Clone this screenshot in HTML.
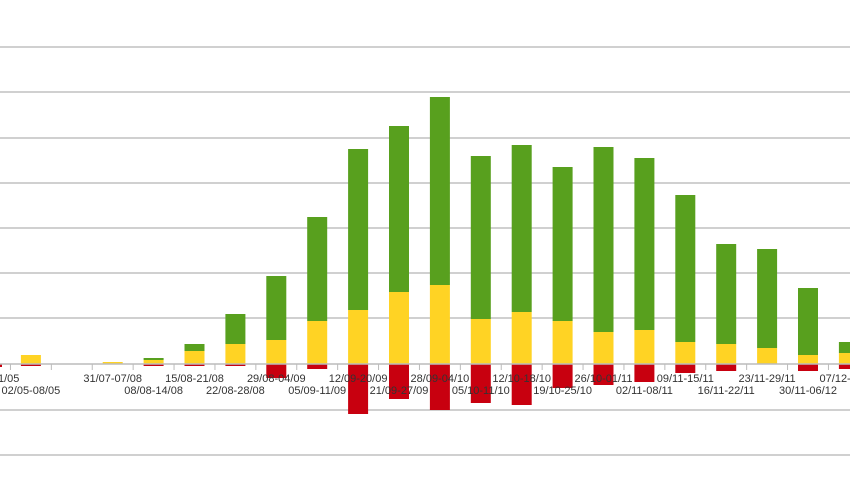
<!DOCTYPE html><html><head><style>body{margin:0;background:#fff}svg{display:block}text{font-family:"Liberation Sans",sans-serif;font-size:11px;fill:#333}</style></head><body>
<svg width="850" height="478" xmlns="http://www.w3.org/2000/svg">
<g stroke="#d0d0d0" stroke-width="2">
<line x1="0" x2="850" y1="47" y2="47"/><line x1="0" x2="850" y1="92" y2="92"/><line x1="0" x2="850" y1="138" y2="138"/><line x1="0" x2="850" y1="183" y2="183"/><line x1="0" x2="850" y1="228" y2="228"/><line x1="0" x2="850" y1="273" y2="273"/><line x1="0" x2="850" y1="318" y2="318"/><line x1="0" x2="850" y1="410" y2="410"/><line x1="0" x2="850" y1="455" y2="455"/>
</g>
<g fill="#58a01e">
<rect x="143.6" y="358" width="20" height="2"/>
<rect x="184.5" y="344" width="20" height="7"/>
<rect x="225.4" y="314" width="20" height="30"/>
<rect x="266.3" y="276" width="20" height="64"/>
<rect x="307.2" y="217" width="20" height="104"/>
<rect x="348.1" y="149" width="20" height="161"/>
<rect x="389" y="126" width="20" height="166"/>
<rect x="429.9" y="97" width="20" height="188"/>
<rect x="470.8" y="156" width="20" height="163"/>
<rect x="511.7" y="145" width="20" height="167"/>
<rect x="552.6" y="167" width="20" height="154"/>
<rect x="593.5" y="147" width="20" height="185"/>
<rect x="634.4" y="158" width="20" height="172"/>
<rect x="675.3" y="195" width="20" height="147"/>
<rect x="716.2" y="244" width="20" height="100"/>
<rect x="757.1" y="249" width="20" height="99"/>
<rect x="798" y="288" width="20" height="67"/>
<rect x="838.9" y="342" width="20" height="11"/>
</g>
<g fill="#ffd324">
<rect x="-20" y="352" width="20" height="12"/>
<rect x="20.9" y="355" width="20" height="9"/>
<rect x="102.7" y="362" width="20" height="2"/>
<rect x="143.6" y="360" width="20" height="4"/>
<rect x="184.5" y="351" width="20" height="13"/>
<rect x="225.4" y="344" width="20" height="20"/>
<rect x="266.3" y="340" width="20" height="24"/>
<rect x="307.2" y="321" width="20" height="43"/>
<rect x="348.1" y="310" width="20" height="54"/>
<rect x="389" y="292" width="20" height="72"/>
<rect x="429.9" y="285" width="20" height="79"/>
<rect x="470.8" y="319" width="20" height="45"/>
<rect x="511.7" y="312" width="20" height="52"/>
<rect x="552.6" y="321" width="20" height="43"/>
<rect x="593.5" y="332" width="20" height="32"/>
<rect x="634.4" y="330" width="20" height="34"/>
<rect x="675.3" y="342" width="20" height="22"/>
<rect x="716.2" y="344" width="20" height="20"/>
<rect x="757.1" y="348" width="20" height="16"/>
<rect x="798" y="355" width="20" height="9"/>
<rect x="838.9" y="353" width="20" height="11"/>
</g>
<g fill="#c8000f">
<rect x="-20" y="364" width="22" height="3"/>
<rect x="20.9" y="364" width="20" height="2"/>
<rect x="143.6" y="364" width="20" height="2"/>
<rect x="184.5" y="364" width="20" height="2"/>
<rect x="225.4" y="364" width="20" height="2"/>
<rect x="266.3" y="364" width="20" height="14"/>
<rect x="307.2" y="364" width="20" height="5"/>
<rect x="348.1" y="364" width="20" height="50"/>
<rect x="389" y="364" width="20" height="35"/>
<rect x="429.9" y="364" width="20" height="46"/>
<rect x="470.8" y="364" width="20" height="39"/>
<rect x="511.7" y="364" width="20" height="41"/>
<rect x="552.6" y="364" width="20" height="24"/>
<rect x="593.5" y="364" width="20" height="21"/>
<rect x="634.4" y="364" width="20" height="18"/>
<rect x="675.3" y="364" width="20" height="9"/>
<rect x="716.2" y="364" width="20" height="7"/>
<rect x="798" y="364" width="20" height="7"/>
<rect x="838.9" y="364" width="20" height="5"/>
</g>
<line x1="0" x2="850" y1="364" y2="364" stroke="#bbb" stroke-width="1.5"/>
<g stroke="#bbb">
<line x1="10.45" x2="10.45" y1="364" y2="370"/><line x1="51.35" x2="51.35" y1="364" y2="370"/><line x1="92.25" x2="92.25" y1="364" y2="370"/><line x1="133.15" x2="133.15" y1="364" y2="370"/><line x1="174.05" x2="174.05" y1="364" y2="370"/><line x1="214.95" x2="214.95" y1="364" y2="370"/><line x1="255.85" x2="255.85" y1="364" y2="370"/><line x1="296.75" x2="296.75" y1="364" y2="370"/><line x1="337.65" x2="337.65" y1="364" y2="370"/><line x1="378.55" x2="378.55" y1="364" y2="370"/><line x1="419.45" x2="419.45" y1="364" y2="370"/><line x1="460.35" x2="460.35" y1="364" y2="370"/><line x1="501.25" x2="501.25" y1="364" y2="370"/><line x1="542.15" x2="542.15" y1="364" y2="370"/><line x1="583.05" x2="583.05" y1="364" y2="370"/><line x1="623.95" x2="623.95" y1="364" y2="370"/><line x1="664.85" x2="664.85" y1="364" y2="370"/><line x1="705.75" x2="705.75" y1="364" y2="370"/><line x1="746.65" x2="746.65" y1="364" y2="370"/><line x1="787.55" x2="787.55" y1="364" y2="370"/><line x1="828.45" x2="828.45" y1="364" y2="370"/>
</g>
<g text-anchor="middle">
<text x="-10" y="382">25/04-01/05</text>
<text x="30.9" y="394">02/05-08/05</text>
<text x="112.7" y="382">31/07-07/08</text>
<text x="153.6" y="394">08/08-14/08</text>
<text x="194.5" y="382">15/08-21/08</text>
<text x="235.4" y="394">22/08-28/08</text>
<text x="276.3" y="382">29/08-04/09</text>
<text x="317.2" y="394">05/09-11/09</text>
<text x="358.1" y="382">12/09-20/09</text>
<text x="399" y="394">21/09-27/09</text>
<text x="439.9" y="382">28/09-04/10</text>
<text x="480.8" y="394">05/10-11/10</text>
<text x="521.7" y="382">12/10-18/10</text>
<text x="562.6" y="394">19/10-25/10</text>
<text x="603.5" y="382">26/10-01/11</text>
<text x="644.4" y="394">02/11-08/11</text>
<text x="685.3" y="382">09/11-15/11</text>
<text x="726.2" y="394">16/11-22/11</text>
<text x="767.1" y="382">23/11-29/11</text>
<text x="808" y="394">30/11-06/12</text>
<text x="848.9" y="382">07/12-13/12</text>
</g>
</svg></body></html>
